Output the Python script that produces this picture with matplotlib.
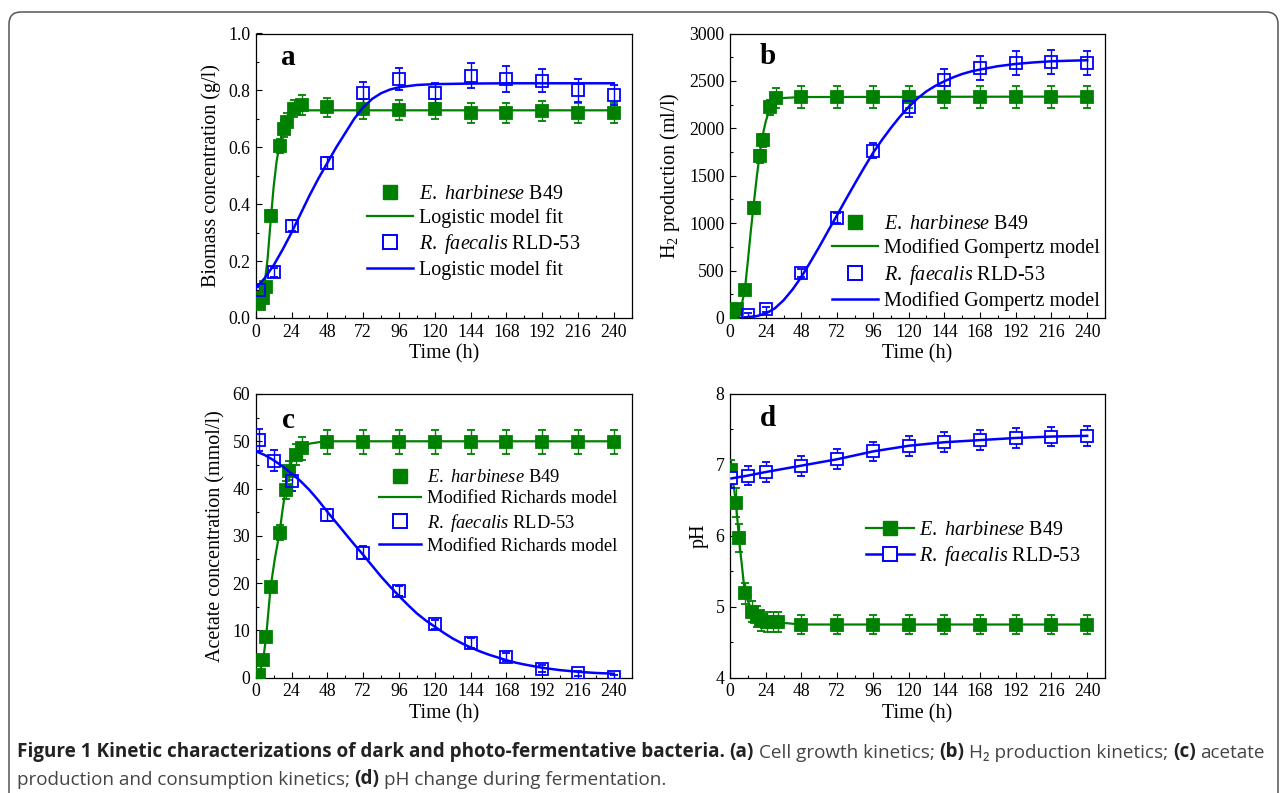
import numpy as np
import matplotlib.pyplot as plt
from matplotlib.ticker import MultipleLocator
from matplotlib.lines import Line2D
from matplotlib.patches import FancyBboxPatch
from matplotlib.transforms import IdentityTransform

plt.rcParams['font.family'] = 'Liberation Serif'
plt.rcParams['mathtext.fontset'] = 'custom'
plt.rcParams['mathtext.rm'] = 'Liberation Serif'
plt.rcParams['mathtext.it'] = 'Liberation Serif:italic'
plt.rcParams['mathtext.bf'] = 'Liberation Serif:bold'

GREEN = '#008000'
BLUE = '#0000ff'

# --- (a) biomass, g/l ---
A_GREEN_T = [2, 5, 7, 10, 16, 19, 21, 26, 31, 48, 72, 96, 120, 144, 168, 192, 216, 240]
A_GREEN_V = [0.05, 0.07, 0.11, 0.36, 0.605, 0.665, 0.69, 0.735, 0.75, 0.74, 0.735, 0.73,
             0.735, 0.72, 0.72, 0.727, 0.72, 0.72]
A_GREEN_E = [0.01, 0.01, 0.015, 0.02, 0.025, 0.03, 0.03, 0.03, 0.035, 0.035, 0.035, 0.035,
             0.035, 0.035, 0.035, 0.035, 0.035, 0.035]
A_BLUE_T = [2, 12, 24, 48, 72, 96, 120, 144, 168, 192, 216, 240]
A_BLUE_V = [0.10, 0.16, 0.325, 0.545, 0.79, 0.84, 0.79, 0.852, 0.841, 0.834, 0.80, 0.785]
A_BLUE_E = [0.01, 0.015, 0.02, 0.02, 0.04, 0.04, 0.035, 0.045, 0.045, 0.04, 0.04, 0.035]
A_GFIT_T = [0, 2, 4, 6, 8, 10, 12, 14, 16, 18, 20, 22, 24, 28, 32, 36, 48, 240]
A_GFIT_V = [0.03, 0.045, 0.07, 0.12, 0.21, 0.34, 0.46, 0.55, 0.61, 0.655, 0.685, 0.703,
            0.715, 0.725, 0.73, 0.73, 0.73, 0.73]
A_BFIT_T = [0, 6, 12, 18, 24, 30, 36, 42, 48, 54, 60, 66, 72, 78, 84, 90, 96, 108, 120,
            144, 168, 192, 216, 240]
A_BFIT_V = [0.104, 0.14, 0.185, 0.24, 0.30, 0.365, 0.43, 0.49, 0.545, 0.60, 0.65, 0.70,
            0.74, 0.77, 0.79, 0.803, 0.811, 0.819, 0.822, 0.824, 0.825, 0.825, 0.825, 0.825]

# --- (b) H2 production, ml/l ---
B_GREEN_T = [2, 5, 10, 16, 20, 22, 27, 31, 48, 72, 96, 120, 144, 168, 192, 216, 240]
B_GREEN_V = [40, 90, 295, 1160, 1705, 1875, 2220, 2320, 2330, 2330, 2330, 2330, 2330,
             2330, 2330, 2330, 2330]
B_GREEN_E = [20, 30, 40, 60, 70, 70, 80, 110, 115, 115, 115, 115, 115, 115, 115, 115, 115]
B_BLUE_T = [12, 24, 48, 72, 96, 120, 144, 168, 192, 216, 240]
B_BLUE_V = [30, 90, 475, 1055, 1765, 2220, 2505, 2635, 2690, 2700, 2690]
B_BLUE_E = [20, 30, 40, 50, 80, 100, 120, 130, 130, 130, 130]
B_GFIT_T = [4, 6, 8, 10, 12, 14, 16, 18, 20, 22, 24, 26, 28, 32, 36, 48, 240]
B_GFIT_V = [10, 50, 150, 300, 600, 920, 1210, 1490, 1735, 1930, 2070, 2175, 2245, 2300,
            2320, 2330, 2335]
B_BFIT_T = [6, 12, 18, 24, 30, 36, 42, 48, 54, 60, 66, 72, 78, 84, 90, 96, 102, 108, 114,
            120, 126, 132, 138, 144, 150, 156, 162, 168, 180, 192, 204, 216, 228, 240]
B_BFIT_V = [0, 10, 20, 48, 100, 187, 300, 434, 590, 751, 920, 1086, 1255, 1420, 1582, 1738,
            1875, 2002, 2120, 2224, 2315, 2390, 2448, 2496, 2538, 2573, 2600, 2620, 2655,
            2679, 2695, 2707, 2713, 2718]

# --- (c) acetate, mmol/l ---
C_GREEN_T = [2, 5, 7, 10, 16, 20, 22, 27, 31, 48, 72, 96, 120, 144, 168, 192, 216, 240]
C_GREEN_V = [0.5, 3.7, 8.7, 19.2, 30.7, 39.7, 43.8, 47.2, 48.5, 49.9, 49.9, 49.9, 49.9,
             49.9, 49.9, 49.9, 49.9, 49.9]
C_GREEN_E = [0.3, 0.5, 0.8, 1.0, 1.5, 2.0, 2.0, 2.2, 2.5, 2.5, 2.5, 2.5, 2.5, 2.5, 2.5,
             2.5, 2.5, 2.5]
C_BLUE_T = [2, 12, 24, 48, 72, 96, 120, 144, 168, 192, 216, 240]
C_BLUE_V = [50.3, 45.9, 41.5, 34.4, 26.4, 18.3, 11.3, 7.3, 4.4, 1.9, 0.9, 0.2]
C_BLUE_E = [2.3, 2.2, 2.0, 1.2, 1.4, 1.0, 1.0, 1.0, 0.8, 0.8, 0.6, 0.4]
C_GFIT_T = [0, 2, 5, 7, 10, 13, 16, 18, 20, 22, 24, 27, 31, 36, 42, 48, 240]
C_GFIT_V = [0, 0.6, 3.7, 8.7, 19.2, 25.5, 30.7, 35.5, 39.7, 43.3, 45.6, 47.3, 48.7, 49.5,
            49.8, 50.0, 50.0]
C_BFIT_T = [0, 6, 12, 18, 24, 30, 36, 42, 48, 54, 60, 66, 72, 78, 84, 90, 96, 102, 108,
            114, 120, 126, 132, 138, 144, 150, 156, 162, 168, 174, 180, 192, 204, 216, 228, 240]
C_BFIT_V = [47.9, 47.1, 46.0, 44.7, 43.2, 41.6, 39.7, 37.5, 35.1, 32.8, 30.5, 28.2, 26.0,
            23.7, 21.4, 19.3, 17.3, 15.4, 13.6, 12.1, 10.8, 9.5, 8.3, 7.3, 6.4, 5.6, 4.9,
            4.3, 3.7, 3.2, 2.8, 2.1, 1.6, 1.25, 1.0, 0.85]

# --- (d) pH ---
D_GREEN_T = [1, 4, 6, 10, 15, 18, 21, 25, 29, 32, 48, 72, 96, 120, 144, 168, 192, 216, 240]
D_GREEN_V = [6.93, 6.47, 5.97, 5.19, 4.93, 4.86, 4.81, 4.79, 4.78, 4.78, 4.75, 4.75, 4.75,
             4.75, 4.75, 4.75, 4.75, 4.75, 4.75]
D_GREEN_E = [0.14, 0.2, 0.2, 0.15, 0.15, 0.15, 0.15, 0.14, 0.14, 0.14, 0.14, 0.14, 0.14,
             0.14, 0.14, 0.14, 0.14, 0.14, 0.14]
D_BLUE_T = [1, 12, 24, 48, 72, 96, 120, 144, 168, 192, 216, 240]
D_BLUE_V = [6.81, 6.85, 6.9, 6.99, 7.08, 7.19, 7.27, 7.32, 7.35, 7.38, 7.40, 7.41]
D_BLUE_E = [0.14, 0.14, 0.14, 0.14, 0.14, 0.14, 0.14, 0.14, 0.14, 0.14, 0.14, 0.14]

TIME_TICKS = [0, 24, 48, 72, 96, 120, 144, 168, 192, 216, 240]
E_LABEL = r'$\mathit{E.}$ $\mathit{harbinese}$ B49'
R_LABEL = r'$\mathit{R.}$ $\mathit{faecalis}$ RLD-53'

W, H = 1282, 793
fig = plt.figure(figsize=(W / 100, H / 100), dpi=100)
fig.patch.set_facecolor('white')


def px_axes(left, top, right, bottom):
    return fig.add_axes([left / W, 1 - bottom / H, (right - left) / W, (bottom - top) / H])


def style(ax, ylim, ymaj, ymin, ylabel, letter, lx, ly):
    ax.set_xlim(0, 252)
    ax.set_ylim(*ylim)
    ax.set_xticks(TIME_TICKS)
    ax.xaxis.set_minor_locator(MultipleLocator(12))
    ax.yaxis.set_major_locator(MultipleLocator(ymaj))
    ax.yaxis.set_minor_locator(MultipleLocator(ymin))
    ax.tick_params(which='both', direction='in', top=False, right=False, width=0.8,
                   labelsize=12.8, pad=4)
    ax.tick_params(which='major', length=4)
    ax.tick_params(which='minor', length=2.5)
    for s in ax.spines.values():
        s.set_linewidth(0.9)
    ax.set_xlabel('Time (h)', fontsize=14.5, labelpad=3)
    ax.set_ylabel(ylabel, fontsize=14.5, labelpad=5)
    ax.text(lx, ly, letter, transform=ax.transAxes, fontsize=21, fontweight='bold',
            ha='center', va='center')


def points(ax, t, v, e, color, face, ms=8.4):
    ax.errorbar(t, v, yerr=e, fmt='s', color=color, mfc=face, mec=color, ms=ms, mew=1.3,
                elinewidth=1.0, capsize=2.6, capthick=1.0, zorder=3)


def fit_legend(ax, fit_label, x, y, hl, spacing, size):
    handles = [
        Line2D([], [], ls='none', marker='s', ms=10, color=GREEN),
        Line2D([], [], color=GREEN, lw=1.6),
        Line2D([], [], ls='none', marker='s', ms=10, mfc='none', mec=BLUE, mew=1.4),
        Line2D([], [], color=BLUE, lw=1.8),
    ]
    labels = [E_LABEL, fit_label, R_LABEL, fit_label]
    ax.legend(handles, labels, loc='center left', bbox_to_anchor=(x / W, 1 - y / H),
              bbox_transform=fig.transFigure, frameon=False, fontsize=size,
              handlelength=hl, handletextpad=0.3, labelspacing=spacing, borderpad=0,
              borderaxespad=0)


ax_a = px_axes(255.7, 33.5, 631.7, 318)
ax_b = px_axes(730, 33.5, 1105, 318)
ax_c = px_axes(255.7, 394, 631.7, 677.7)
ax_d = px_axes(730, 394, 1105, 677.7)

# (a)
ax_a.plot(A_GFIT_T, A_GFIT_V, color=GREEN, lw=1.6, zorder=2)
points(ax_a, A_GREEN_T, A_GREEN_V, A_GREEN_E, GREEN, GREEN)
ax_a.plot(A_BFIT_T, A_BFIT_V, color=BLUE, lw=1.8, zorder=4)
points(ax_a, A_BLUE_T, A_BLUE_V, A_BLUE_E, BLUE, 'none')
style(ax_a, (0, 1.0), 0.2, 0.1, 'Biomass concentration (g/l)', 'a', 0.086, 0.914)
fit_legend(ax_a, 'Logistic model fit', 366.7, 232.5, 2.3, 0.2, 14.5)

# (b)
ax_b.plot(B_GFIT_T, B_GFIT_V, color=GREEN, lw=1.6, zorder=2)
points(ax_b, B_GREEN_T, B_GREEN_V, B_GREEN_E, GREEN, GREEN)
ax_b.plot(B_BFIT_T, B_BFIT_V, color=BLUE, lw=1.8, zorder=4)
points(ax_b, B_BLUE_T, B_BLUE_V, B_BLUE_E, BLUE, 'none')
style(ax_b, (0, 3000), 500, 250, 'H$_2$ production (ml/l)', 'b', 0.101, 0.918)
fit_legend(ax_b, 'Modified Gompertz model', 831.7, 263, 2.3, 0.22, 14.5)

# (c)
ax_c.plot(C_GFIT_T, C_GFIT_V, color=GREEN, lw=1.6, zorder=2)
points(ax_c, C_GREEN_T, C_GREEN_V, C_GREEN_E, GREEN, GREEN)
ax_c.plot(C_BFIT_T, C_BFIT_V, color=BLUE, lw=1.8, zorder=4)
points(ax_c, C_BLUE_T, C_BLUE_V, C_BLUE_E, BLUE, 'none')
style(ax_c, (0, 60), 10, 5, 'Acetate concentration (mmol/l)', 'c', 0.087, 0.908)
fit_legend(ax_c, 'Modified Richards model', 379, 512, 2.3, 0.23, 13.3)

# (d)
ax_d.plot(D_GREEN_T, D_GREEN_V, color=GREEN, lw=1.6, zorder=2)
points(ax_d, D_GREEN_T, D_GREEN_V, D_GREEN_E, GREEN, GREEN)
ax_d.plot(D_BLUE_T, D_BLUE_V, color=BLUE, lw=1.8, zorder=4)
points(ax_d, D_BLUE_T, D_BLUE_V, D_BLUE_E, BLUE, 'white')
style(ax_d, (4, 8), 1, 0.5, 'pH', 'd', 0.102, 0.914)
d_handles = [
    Line2D([], [], color=GREEN, lw=1.6, marker='s', ms=10),
    Line2D([], [], color=BLUE, lw=1.8, marker='s', ms=10, mfc='white', mec=BLUE, mew=1.4),
]
ax_d.legend(d_handles, [E_LABEL, R_LABEL], loc='center left',
            bbox_to_anchor=(865.7 / W, 1 - 544.5 / H), bbox_transform=fig.transFigure,
            frameon=False, fontsize=14.5, handlelength=2.4, handletextpad=0.25,
            labelspacing=0.2, borderpad=0, borderaxespad=0)

# frame around the figure
frame = FancyBboxPatch((9, -30), 1269, H - 12 + 30, boxstyle='round,pad=0,rounding_size=12',
                       transform=IdentityTransform(), fill=False, ec='#555555', lw=1.1)
fig.add_artist(frame)

# caption, built from bold and regular pieces
CAP_FONT = ['Open Sans', 'DejaVu Sans']
CAP_SIZE = 13.55
line1 = [('Figure 1 Kinetic characterizations of dark and photo-fermentative bacteria.', 'bold'),
         ('(a)', 'bold'), ('Cell growth kinetics;', 'normal'), ('(b)', 'bold'),
         ('H\u2082 production kinetics;', 'normal'), ('(c)', 'bold'), ('acetate', 'normal')]
line2 = [('production and consumption kinetics;', 'normal'), ('(d)', 'bold'),
         ('pH change during fermentation.', 'normal')]


def chain(pieces, y):
    prev = None
    for s, w in pieces:
        col = '#222222' if w == 'bold' else '#444444'
        if prev is None:
            prev = fig.text(17 / W, y, s, fontsize=CAP_SIZE, fontweight=w, family=CAP_FONT,
                            color=col, ha='left', va='bottom')
        else:
            prev = fig.add_artist(plt.Annotation(s, xy=(1, 0), xycoords=prev,
                                                 xytext=(3.4, 0), textcoords='offset points',
                                                 fontsize=CAP_SIZE, fontweight=w,
                                                 family=CAP_FONT, color=col,
                                                 ha='left', va='bottom'))


chain(line1, 1 - 762 / H)
chain(line2, 1 - 789 / H)

fig.savefig('out.png', dpi=100)
